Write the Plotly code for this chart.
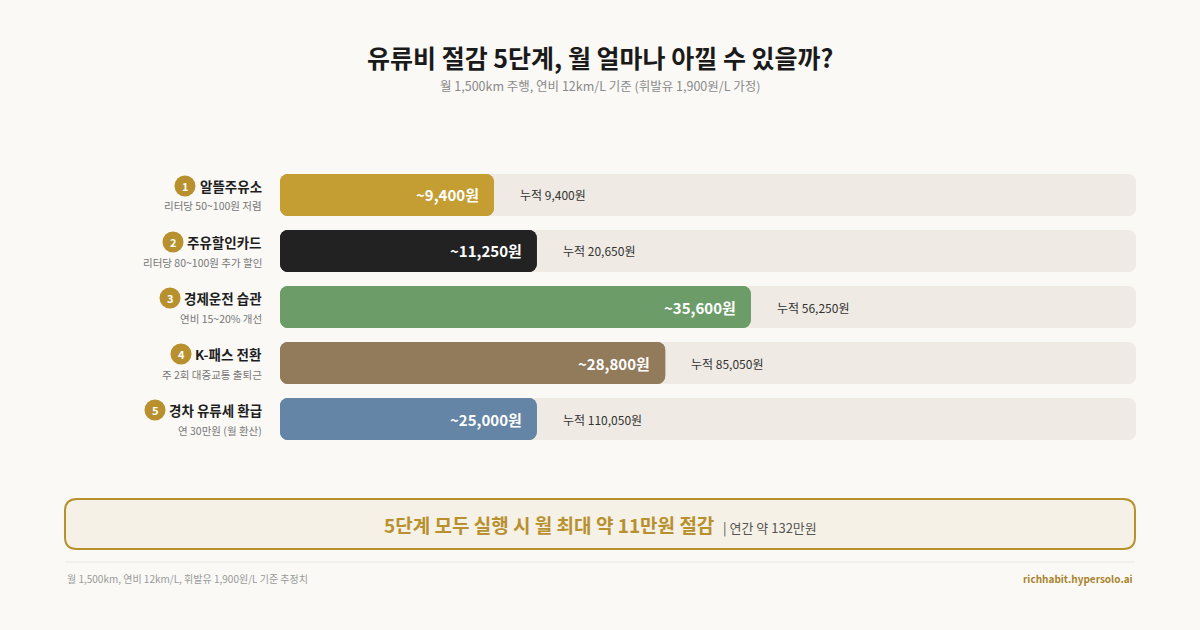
import plotly.graph_objects as go

# ---- data ----
steps = ["알뜰주유소", "주유할인카드", "경제운전 습관", "K-패스 전환", "경차 유류세 환급"]
step_notes = ["리터당 50~100원 저렴", "리터당 80~100원 추가 할인", "연비 15~20% 개선",
              "주 2회 대중교통 출퇴근", "연 30만원 (월 환산)"]
monthly_savings = [9400, 11250, 35600, 28800, 25000]
cumulative = [9400, 20650, 56250, 85050, 110050]
bar_share = [25, 30, 55, 45, 30]   # bar length as % of track
bar_colors = ["#C49D33", "#222222", "#6C9D69", "#927B5B", "#6485A5"]

W, H = 1200, 630
FONT = "Noto Sans CJK KR"
GOLD = "#B8902E"

def px(x):
    return x / W

def py(y):
    return 1 - y / H

fig = go.Figure()
idx = list(range(len(steps)))

def rounded_bar(values, color, hover=True):
    # drawn twice (forward and reversed) so both ends get rounded corners
    fig.add_trace(go.Bar(
        y=idx, x=[-v for v in values], base=values, orientation="h", width=0.75,
        marker=dict(color=color, line=dict(width=0)), hoverinfo="skip", showlegend=False))
    fig.add_trace(go.Bar(
        y=idx, x=values, base=[0] * len(values), orientation="h", width=0.75,
        marker=dict(color=color, line=dict(width=0)),
        customdata=monthly_savings,
        hovertemplate="%{customdata:,}원<extra></extra>" if hover else None,
        hoverinfo=None if hover else "skip",
        showlegend=False))

rounded_bar([100] * len(steps), "#EFEBE4", hover=False)
rounded_bar(bar_share, bar_colors)

annotations = []
shapes = []

for i in idx:
    annotations.append(dict(x=bar_share[i], y=i, xref="x", yref="y", xanchor="right",
                            xshift=-13, showarrow=False,
                            text=f"<b>~{monthly_savings[i]:,}원</b>",
                            font=dict(family=FONT, size=15, color="white")))
    annotations.append(dict(x=bar_share[i], y=i, xref="x", yref="y", xanchor="left",
                            xshift=24, showarrow=False,
                            text=f"누적 {cumulative[i]:,}원",
                            font=dict(family=FONT, size=12, color="#333333")))

row_centers = [195, 251, 307, 363, 419]
circle_x = [185, 173, 170, 181, 155]
for i in idx:
    yc = row_centers[i]
    annotations.append(dict(x=px(264), y=py(yc - 9), xref="paper", yref="paper",
                            xanchor="right", yanchor="middle", showarrow=False,
                            text=f"<b>{steps[i]}</b>",
                            font=dict(family=FONT, size=13.5, color="#1E1E1E")))
    annotations.append(dict(x=px(264), y=py(yc + 11), xref="paper", yref="paper",
                            xanchor="right", yanchor="middle", showarrow=False,
                            text=step_notes[i],
                            font=dict(family=FONT, size=10.5, color="#777777")))
    cx, cy = circle_x[i], yc - 9
    shapes.append(dict(type="circle", xref="paper", yref="paper",
                       x0=px(cx - 10.5), x1=px(cx + 10.5), y0=py(cy + 10.5), y1=py(cy - 10.5),
                       fillcolor=GOLD, line=dict(width=0), layer="above"))
    annotations.append(dict(x=px(cx), y=py(cy), xref="paper", yref="paper",
                            xanchor="center", yanchor="middle", showarrow=False,
                            text=f"<b>{i + 1}</b>",
                            font=dict(family=FONT, size=11, color="white")))

annotations.append(dict(x=0.5, y=py(57), xref="paper", yref="paper", showarrow=False,
                        xanchor="center", yanchor="middle",
                        text="<b>유류비 절감 5단계, 월 얼마나 아낄 수 있을까?</b>",
                        font=dict(family=FONT, size=25, color="#1A1A1A")))
annotations.append(dict(x=0.5, y=py(86), xref="paper", yref="paper", showarrow=False,
                        xanchor="center", yanchor="middle",
                        text="월 1,500km 주행, 연비 12km/L 기준 (휘발유 1,900원/L 가정)",
                        font=dict(family=FONT, size=12.5, color="#8A8A8A")))

x0, x1, y0, y1, r = 65, 1135, 499, 549, 12
path = (f"M {px(x0 + r)},{py(y0)} L {px(x1 - r)},{py(y0)} Q {px(x1)},{py(y0)} {px(x1)},{py(y0 + r)} "
        f"L {px(x1)},{py(y1 - r)} Q {px(x1)},{py(y1)} {px(x1 - r)},{py(y1)} "
        f"L {px(x0 + r)},{py(y1)} Q {px(x0)},{py(y1)} {px(x0)},{py(y1 - r)} "
        f"L {px(x0)},{py(y0 + r)} Q {px(x0)},{py(y0)} {px(x0 + r)},{py(y0)} Z")
shapes.append(dict(type="path", xref="paper", yref="paper", path=path,
                   fillcolor="#F5F1E6", line=dict(color=GOLD, width=2), layer="below"))
annotations.append(dict(x=0.5, y=py(524), xref="paper", yref="paper", showarrow=False,
                        xanchor="center", yanchor="middle",
                        text=("<span style='font-size:19px;color:#B8902E'><b>5단계 모두 실행 시 월 최대 약 11만원 절감</b></span>"
                              "<span style='font-size:13px;color:#555555'>   | 연간 약 132만원</span>"),
                        font=dict(family=FONT, size=13, color="#555555")))

shapes.append(dict(type="line", xref="paper", yref="paper", x0=px(65), x1=px(1135),
                   y0=py(562), y1=py(562), line=dict(color="#EAE8E3", width=1)))
annotations.append(dict(x=px(65), y=py(578), xref="paper", yref="paper", showarrow=False,
                        xanchor="left", yanchor="middle",
                        text="월 1,500km, 연비 12km/L, 휘발유 1,900원/L 기준 추정치",
                        font=dict(family=FONT, size=10, color="#999999")))
annotations.append(dict(x=px(1135), y=py(578), xref="paper", yref="paper", showarrow=False,
                        xanchor="right", yanchor="middle",
                        text="<b>richhabit.hypersolo.ai</b>",
                        font=dict(family=FONT, size=10, color="#A8852E")))

fig.update_layout(
    width=W, height=H, autosize=False,
    margin=dict(l=0, r=0, t=0, b=0),
    paper_bgcolor="#FAF9F6", plot_bgcolor="rgba(0,0,0,0)",
    barmode="overlay", barcornerradius=8,
    xaxis=dict(domain=[px(280), px(1136)], range=[0, 100], visible=False, fixedrange=True),
    yaxis=dict(domain=[py(447), py(167)], range=[4.5, -0.5], visible=False, fixedrange=True),
    annotations=annotations, shapes=shapes,
    font=dict(family=FONT),
)

fig.write_html("out.html", config={"displayModeBar": False},
               post_script="document.body.style.margin='0';document.body.style.background='#FAF9F6';")
